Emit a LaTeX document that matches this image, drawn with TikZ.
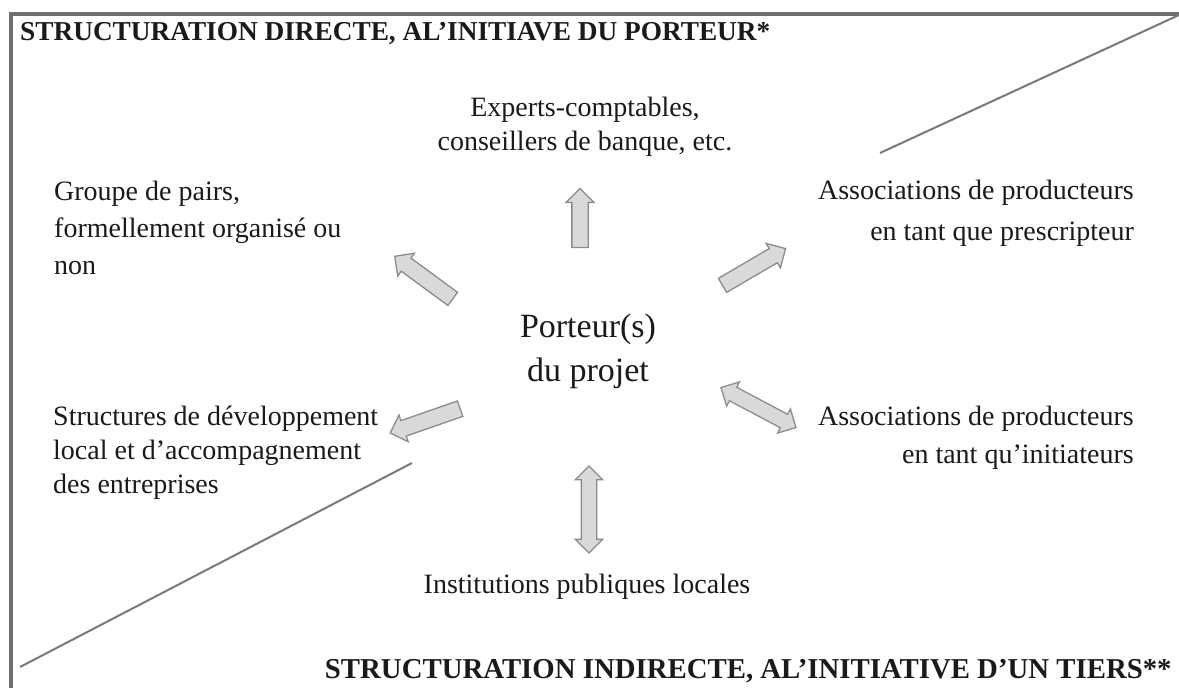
\documentclass[tikz,border=0pt]{standalone}
\usepackage{fontspec}
\setmainfont{Liberation Serif}
\usetikzlibrary{shapes.arrows}
\definecolor{arrfill}{HTML}{D9D9D9}
\definecolor{arrline}{HTML}{8C8C8C}
\definecolor{framec}{HTML}{6E6E6E}
\definecolor{diagc}{HTML}{7A7A7A}
\definecolor{txt}{HTML}{1A1A1A}
\begin{document}
\begin{tikzpicture}[x=1pt,y=-1pt,
  lbl/.style={inner sep=0pt, text=txt, font=\fontsize{28}{37}\selectfont},
  ttl/.style={inner sep=0pt, text=txt},
  sarrow/.style={single arrow, draw=arrline, fill=arrfill, line width=1.3pt,
    inner xsep=0pt, inner ysep=7.5pt, single arrow head extend=6pt,
    single arrow tip angle=90, minimum width=27pt},
  darrow/.style={double arrow, draw=arrline, fill=arrfill, line width=1.3pt,
    inner xsep=0pt, inner ysep=7pt, double arrow head extend=6pt,
    double arrow tip angle=90, minimum width=26pt},
  diag/.style={draw=diagc, line width=2pt}]
\useasboundingbox (0,0) rectangle (1179,688);
\clip (0,0) rectangle (1179,688);
\fill[white] (0,0) rectangle (1179,688);
% frame
\draw[framec, line width=3.5pt] (11,14) rectangle (1200,710);
% diagonals
\coordinate (d1a) at (880,153);
\coordinate (d1b) at (1179,15);
\coordinate (d2a) at (20,667);
\coordinate (d2b) at (412,463);
\draw[diag] (d1a) -- (d1b);
\draw[diag] (d2a) -- (d2b);
% titles
\node[ttl, anchor=base west, font=\fontsize{27.3}{34}\selectfont\bfseries] (t1) at (20,40) {STRUCTURATION DIRECTE, AL’INITIAVE DU PORTEUR*};
\node[ttl, anchor=base east, font=\fontsize{28.8}{34}\selectfont\bfseries] (t2) at (1172,678) {STRUCTURATION INDIRECTE, AL’INITIATIVE D’UN TIERS**};
% labels
\node[lbl, anchor=north, align=center, font=\fontsize{28}{34}\selectfont] (exp) at (585,97) {Experts-comptables,\\conseillers de banque, etc.};
\node[lbl, anchor=north west, align=left, font=\fontsize{28}{37}\selectfont] (grp) at (54,181) {Groupe de pairs,\\formellement organisé ou\\non};
\node[lbl, anchor=north east, align=right, font=\fontsize{28}{41}\selectfont] (as1) at (1134,180) {Associations de producteurs\\en tant que prescripteur};
\node[lbl, anchor=north, align=center, font=\fontsize{34}{44}\selectfont] (por) at (588,314) {Porteur(s)\\du projet};
\node[lbl, anchor=north west, align=left, font=\fontsize{28}{34}\selectfont] (str) at (53,406) {Structures de développement\\local et d’accompagnement\\des entreprises};
\node[lbl, anchor=north east, align=right, font=\fontsize{28}{38}\selectfont] (as2) at (1134,406) {Associations de producteurs\\en tant qu’initiateurs};
\node[lbl, anchor=base] (ins) at (587,593) {Institutions publiques locales};
% block arrows
\node[sarrow, rotate=90, minimum height=59pt] (aup) at (580,222) {};
\node[sarrow, rotate=143.7, minimum height=72pt] (aul) at (427,280) {};
\node[sarrow, rotate=30.3, minimum height=73pt] (aur) at (750.5,269) {};
\node[sarrow, rotate=199.2, minimum height=74pt] (all) at (429,419.5) {};
\node[darrow, rotate=-28, minimum height=85pt] (alr) at (758.5,407.5) {};
\node[darrow, rotate=90, minimum height=87pt] (adn) at (589,509.5) {};
\end{tikzpicture}
\end{document}
